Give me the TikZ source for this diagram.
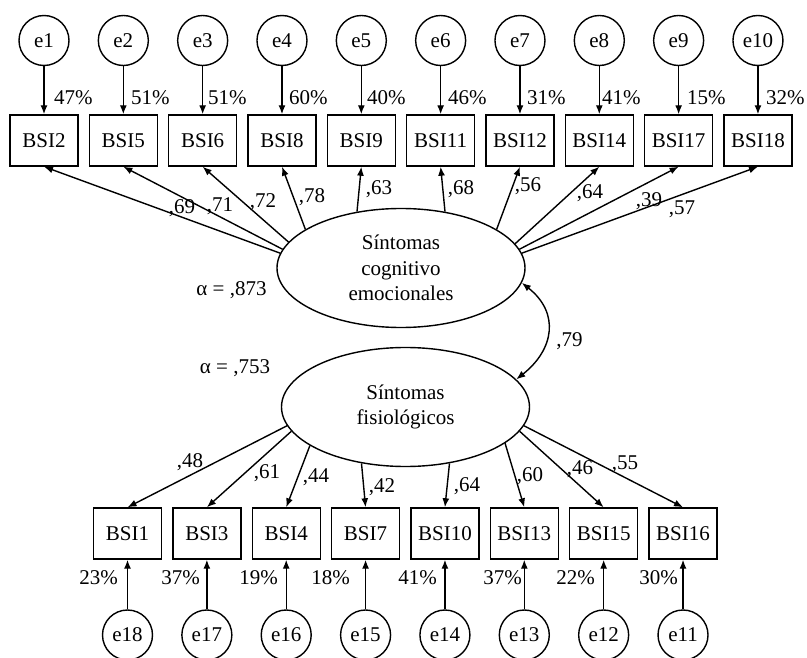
\documentclass[tikz,border=0pt]{standalone}
\usepackage{fontspec}
\setmainfont{Liberation Serif}
\usepackage{tikz}
\usetikzlibrary{arrows, arrows.meta, positioning, shapes.geometric, calc}

\begin{document}
\begin{tikzpicture}[x=1pt, y=-1pt, >={Latex[length=9pt,width=7pt]},
		every node/.style={font=\fontsize{21}{25.5}\selectfont},
		post/.style={->, line width=1.4pt},
		obs/.style={draw, rectangle, line width=1.4pt, minimum width=68pt, minimum height=51pt, inner sep=0pt},
		err/.style={draw, circle, line width=1.4pt, minimum size=50pt, inner sep=0pt},
		lat/.style={draw, ellipse, line width=1.4pt, minimum width=248pt, minimum height=119pt, align=center, inner sep=0pt},
		lbl/.style={inner sep=0pt}]

	\useasboundingbox (0,0) rectangle (807,658);

	% indicadores de la primera escala
	\node [obs] (BSI2) at (44,140.5) {BSI2};
	\node [obs] (BSI5) [right of=BSI2, node distance=79.33pt] {BSI5};
	\node [obs] (BSI6) [right of=BSI5, node distance=79.33pt] {BSI6};
	\node [obs] (BSI8) [right of=BSI6, node distance=79.33pt] {BSI8};
	\node [obs] (BSI9) [right of=BSI8, node distance=79.33pt] {BSI9};
	\node [obs] (BSI11) [right of=BSI9, node distance=79.33pt] {BSI11};
	\node [obs] (BSI12) [right of=BSI11, node distance=79.33pt] {BSI12};
	\node [obs] (BSI14) [right of=BSI12, node distance=79.33pt] {BSI14};
	\node [obs] (BSI17) [right of=BSI14, node distance=79.33pt] {BSI17};
	\node [obs] (BSI18) [right of=BSI17, node distance=79.33pt] {BSI18};

	\node [err] (e1) [above of=BSI2, node distance=100pt] {e1};
	\node [err] (e2) [above of=BSI5, node distance=100pt] {e2};
	\node [err] (e3) [above of=BSI6, node distance=100pt] {e3};
	\node [err] (e4) [above of=BSI8, node distance=100pt] {e4};
	\node [err] (e5) [above of=BSI9, node distance=100pt] {e5};
	\node [err] (e6) [above of=BSI11, node distance=100pt] {e6};
	\node [err] (e7) [above of=BSI12, node distance=100pt] {e7};
	\node [err] (e8) [above of=BSI14, node distance=100pt] {e8};
	\node [err] (e9) [above of=BSI17, node distance=100pt] {e9};
	\node [err] (e10) [above of=BSI18, node distance=100pt] {e10};

	% indicadores de la segunda escala
	\node [obs] (BSI1) at (127.5,533.5) {BSI1};
	\node [obs] (BSI3) [right of=BSI1, node distance=79.36pt] {BSI3};
	\node [obs] (BSI4) [right of=BSI3, node distance=79.36pt] {BSI4};
	\node [obs] (BSI7) [right of=BSI4, node distance=79.36pt] {BSI7};
	\node [obs] (BSI10) [right of=BSI7, node distance=79.36pt] {BSI10};
	\node [obs] (BSI13) [right of=BSI10, node distance=79.36pt] {BSI13};
	\node [obs] (BSI15) [right of=BSI13, node distance=79.36pt] {BSI15};
	\node [obs] (BSI16) [right of=BSI15, node distance=79.36pt] {BSI16};

	\node [err] (e18) [below of=BSI1, node distance=101.5pt] {e18};
	\node [err] (e17) [below of=BSI3, node distance=101.5pt] {e17};
	\node [err] (e16) [below of=BSI4, node distance=101.5pt] {e16};
	\node [err] (e15) [below of=BSI7, node distance=101.5pt] {e15};
	\node [err] (e14) [below of=BSI10, node distance=101.5pt] {e14};
	\node [err] (e13) [below of=BSI13, node distance=101.5pt] {e13};
	\node [err] (e12) [below of=BSI15, node distance=101.5pt] {e12};
	\node [err] (e11) [below of=BSI16, node distance=101.5pt] {e11};

	% factores
	\node [lat] (F1) at (401,268) {Síntomas\\cognitivo\\emocionales};
	\node [lat] (F2) at (405.5,407) {Síntomas\\fisiológicos};

	\node [lbl, anchor=base] (A1) at (231.5,295) {α = ,873};
	\node [lbl, anchor=base] (A2) at (235,373) {α = ,753};

	% errores -> indicadores
	\draw[post] (e1) -- (BSI2);
	\draw[post] (e2) -- (BSI5);
	\draw[post] (e3) -- (BSI6);
	\draw[post] (e4) -- (BSI8);
	\draw[post] (e5) -- (BSI9);
	\draw[post] (e6) -- (BSI11);
	\draw[post] (e7) -- (BSI12);
	\draw[post] (e8) -- (BSI14);
	\draw[post] (e9) -- (BSI17);
	\draw[post] (e10) -- (BSI18);

	\draw[post] (e18) -- (BSI1);
	\draw[post] (e17) -- (BSI3);
	\draw[post] (e16) -- (BSI4);
	\draw[post] (e15) -- (BSI7);
	\draw[post] (e14) -- (BSI10);
	\draw[post] (e13) -- (BSI13);
	\draw[post] (e12) -- (BSI15);
	\draw[post] (e11) -- (BSI16);

	% cargas factoriales
	\draw[post] (F1.173) -- (BSI2.south);
	\draw[post] (F1.171) -- (BSI5.south);
	\draw[post] (F1.167) -- (BSI6.south);
	\draw[post] (F1.158) -- (BSI8.south);
	\draw[post] (F1.128) -- (BSI9.south);
	\draw[post] (F1.52) -- (BSI11.south);
	\draw[post] (F1.22) -- (BSI12.south);
	\draw[post] (F1.12) -- (BSI14.south);
	\draw[post] (F1.9) -- (BSI17.south);
	\draw[post] (F1.7) -- (BSI18.south);

	\draw[post] (F2.189) -- (BSI1.north);
	\draw[post] (F2.192) -- (BSI3.north);
	\draw[post] (F2.202) -- (BSI4.north);
	\draw[post] (F2.232) -- (BSI7.north);
	\draw[post] (F2.308) -- (BSI10.north);
	\draw[post] (F2.340) -- (BSI13.north);
	\draw[post] (F2.348) -- (BSI15.north);
	\draw[post] (F2.351) -- (BSI16.north);

	\draw[post, <->] (F1.-7) .. controls +(38,30) and +(38,-30) .. (F2.14);
	\node [lbl, anchor=base] (r12) at (569.5,346) {,79};

	% pesos
	\node [lbl, anchor=base] (w2) at (182,214) {,69};
	\node [lbl, anchor=base] (w5) at (220,212) {,71};
	\node [lbl, anchor=base] (w6) at (263,208) {,72};
	\node [lbl, anchor=base] (w8) at (312,203) {,78};
	\node [lbl, anchor=base] (w9) at (379,195) {,63};
	\node [lbl, anchor=base] (w11) at (461,195) {,68};
	\node [lbl, anchor=base] (w12) at (528,192) {,56};
	\node [lbl, anchor=base] (w14) at (590,199) {,64};
	\node [lbl, anchor=base] (w17) at (649,207) {,39};
	\node [lbl, anchor=base] (w18) at (682,215) {,57};

	\node [lbl, anchor=base] (w1) at (190,467) {,48};
	\node [lbl, anchor=base] (w3) at (267,478) {,61};
	\node [lbl, anchor=base] (w4) at (316,482) {,44};
	\node [lbl, anchor=base] (w7) at (382,492) {,42};
	\node [lbl, anchor=base] (w10) at (467,491) {,64};
	\node [lbl, anchor=base] (w13) at (530,481) {,60};
	\node [lbl, anchor=base] (w15) at (580,474) {,46};
	\node [lbl, anchor=base] (w16) at (625,469) {,55};

	% varianza explicada
	\node [lbl, anchor=base west] (r2) at (54,105) {47\%};
	\node [lbl, anchor=base west] (r5) at (131,105) {51\%};
	\node [lbl, anchor=base west] (r6) at (208,105) {51\%};
	\node [lbl, anchor=base west] (r8) at (289,105) {60\%};
	\node [lbl, anchor=base west] (r9) at (367,105) {40\%};
	\node [lbl, anchor=base west] (r11) at (448,105) {46\%};
	\node [lbl, anchor=base west] (r12b) at (527,105) {31\%};
	\node [lbl, anchor=base west] (r14) at (602,105) {41\%};
	\node [lbl, anchor=base west] (r17) at (687,105) {15\%};
	\node [lbl, anchor=base west] (r18) at (766,105) {32\%};

	\node [lbl, anchor=base east] (r1) at (118,584) {23\%};
	\node [lbl, anchor=base east] (r3) at (200,584) {37\%};
	\node [lbl, anchor=base east] (r4) at (278,584) {19\%};
	\node [lbl, anchor=base east] (r7) at (350,584) {18\%};
	\node [lbl, anchor=base east] (r10) at (437,584) {41\%};
	\node [lbl, anchor=base east] (r13) at (522,584) {37\%};
	\node [lbl, anchor=base east] (r15) at (595,584) {22\%};
	\node [lbl, anchor=base east] (r16) at (678,584) {30\%};

\end{tikzpicture}
\end{document}
